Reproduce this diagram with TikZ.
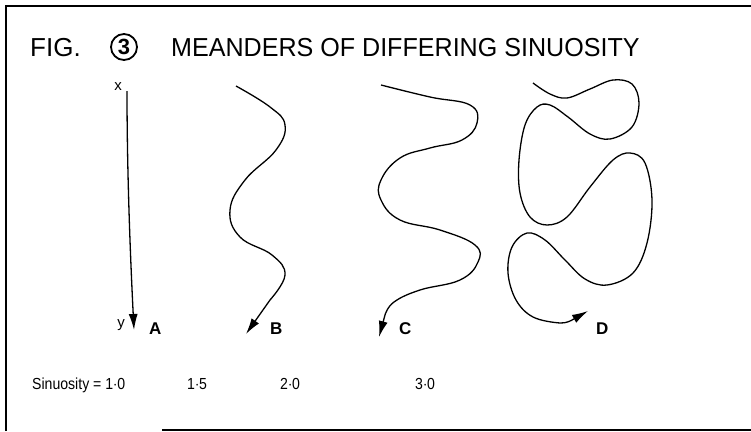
\documentclass[tikz,border=0pt]{standalone}
\usepackage{fontspec}
\setmainfont{Liberation Sans}
\usetikzlibrary{arrows.meta}

\tikzset{
  meander/.style={line width=1.3pt, -{Latex[length=16pt,width=9pt]}},
  letter/.style={font=\fontsize{17}{17}\selectfont\bfseries, anchor=base west, inner sep=0pt},
  value/.style={font=\fontsize{16}{16}\selectfont, anchor=base west, inner sep=0pt,
    transform shape, xscale=0.88}
}

\begin{document}
\begin{tikzpicture}[x=1pt, y=-1pt]
  \useasboundingbox (0,0) rectangle (751,431);

  % Frame
  \draw[line width=2pt] (6,431) -- (6,6) -- (751,6);
  \draw[line width=1.5pt] (162,430) -- (751,430);

  % Title
  \node[anchor=base west, font=\fontsize{26}{26}\selectfont, inner sep=0pt] (fig) at (30,56) {FIG.};
  \node[circle, draw, line width=1.8pt, inner sep=2.2pt, font=\fontsize{22}{22}\selectfont\bfseries] (num) at (124,47) {3};
  \node[anchor=base west, font=\fontsize{26}{26}\selectfont, inner sep=0pt,
    transform shape, xscale=0.965] (title) at (171,56) {MEANDERS OF DIFFERING SINUOSITY};

  % A
  \node[font=\fontsize{15}{15}\selectfont] (xlab) at (118,87) {x};
  \draw[meander] (127,91) .. controls (127,180) and (131,270) .. (134,330);
  \node[font=\fontsize{15}{15}\selectfont] (ylab) at (121,325) {y};
  \node[letter] (A) at (149,334) {A};

  % B
  \draw[meander] plot[smooth, tension=0.7] coordinates {
    (236,86) (270,107) (285,125) (276,150) (245,180) (230,210)
    (240,237) (272,255) (285,275) (270,300)} -- (246,334);
  \node[letter] (B) at (270,334) {B};

  % C
  \draw[meander] plot[smooth, tension=0.7] coordinates {
    (381,85) (430,97) (470,105) (477,123) (462,140) (430,148) (400,158)
    (381,180) (381,200) (400,220) (440,230) (475,245) (478,262) (460,280)
    (420,290) (394,302) (385,315)} -- (379,337);
  \node[letter] (C) at (399,334) {C};

  % D
  \draw[meander] plot[smooth, tension=0.6] coordinates {
    (533,83) (550,94) (567,98) (590,89) (613,80) (632,84) (639,103)
    (632,127) (610,139) (590,134) (568,117) (550,105) (537,107) (525,125)
    (519,160) (520,193) (530,217) (547,225) (567,217) (590,187) (613,160)
    (630,153) (645,163) (652,200) (647,243) (633,273) (607,285) (585,279)
    (565,260) (545,240) (527,233) (512,247) (508,273) (516,300) (533,317)
    (560,323) (572,320)} -- (588,311);
  \node[letter] (D) at (596,334) {D};

  % Sinuosity values
  \node[value] (sinA) at (32,389) {Sinuosity = 1$\cdot$0};
  \node[value] (sinB) at (187,389) {1$\cdot$5};
  \node[value] (sinC) at (280,389) {2$\cdot$0};
  \node[value] (sinD) at (415,389) {3$\cdot$0};
\end{tikzpicture}
\end{document}
